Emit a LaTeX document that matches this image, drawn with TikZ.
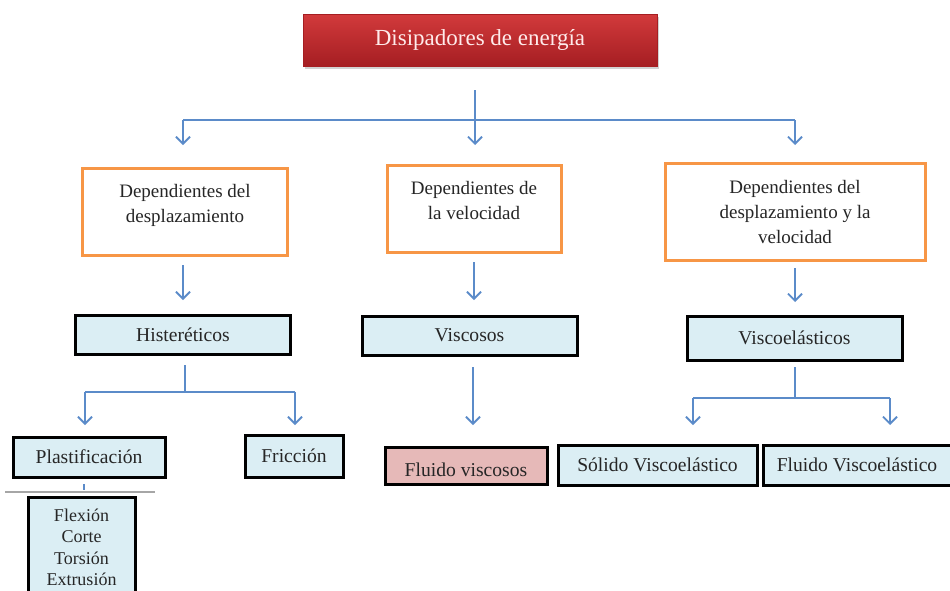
\documentclass[tikz,border=0pt]{standalone}
\usepackage{fontspec}
\setmainfont{Liberation Serif}
\usetikzlibrary{arrows.meta,shadows,calc}
\definecolor{conblue}{HTML}{5B8BC9}
\definecolor{orangeb}{HTML}{F79646}
\definecolor{lblue}{HTML}{DBEEF4}
\definecolor{pinkf}{HTML}{E6B9B8}
\definecolor{redtop}{HTML}{D23A3C}
\definecolor{redbot}{HTML}{A51E22}
\tikzset{
  titlebox/.style={draw=redbot, line width=0.8pt, top color=redtop, bottom color=redbot,
    text=white!92!red, font=\fontsize{23}{27}\selectfont, inner sep=0pt, outer sep=0pt,
    drop shadow={shadow xshift=2pt, shadow yshift=-3pt, opacity=0.35}},
  orangebox/.style={draw=orangeb, line width=3pt, fill=white, align=center,
    font=\fontsize{19}{25}\selectfont, inner sep=0pt, outer sep=0pt, text=black!85},
  bluebox/.style={draw=black, line width=3pt, fill=lblue, align=center,
    font=\fontsize{19.6}{23}\selectfont, inner sep=0pt, outer sep=0pt, text=black!85},
  pinkbox/.style={bluebox, fill=pinkf},
  conn/.style={draw=conblue, line width=1.8pt},
  arr/.style={conn, -{Straight Barb[length=7pt,width=14pt,line width=1.8pt]}},
}
\begin{document}
\begin{tikzpicture}[x=1pt, y=-1pt]
\clip (0,0) rectangle (950,590);
\fill[white] (0,0) rectangle (950,590);

% nodes
\node[titlebox, minimum width=354pt, minimum height=52pt] (title) at (480,40) {Disipadores de energía};

\node[orangebox, minimum width=205pt, minimum height=87pt] (dl) at (185,211.5) {Dependientes del\\desplazamiento\\[-9pt]\mbox{}};
\node[orangebox, minimum width=174pt, minimum height=87pt] (dv) at (474,208.5) {Dependientes de\\la velocidad\\[-9pt]\mbox{}};
\node[orangebox, minimum width=260pt, minimum height=97pt] (ddv) at (795,211.5) {Dependientes del\\desplazamiento y la\\velocidad};

\node[bluebox, minimum width=215pt, minimum height=39pt] (hist) at (183,334.5) {Histeréticos};
\node[bluebox, minimum width=215pt, minimum height=39pt] (visc) at (469.5,335.5) {Viscosos};
\node[bluebox, minimum width=215pt, minimum height=44pt] (vela) at (794.5,338) {Viscoelásticos};

\node[bluebox, minimum width=152pt, minimum height=40pt] (plast) at (89,457) {Plastificación};
\node[bluebox, minimum width=98pt, minimum height=42pt] (fric) at (294,456) {Fricción};
\node[bluebox, minimum width=107pt, minimum height=101pt, font=\fontsize{18}{21.5}\selectfont] (flex) at (81.5,547.5) {Flexión\\Corte\\Torsión\\Extrusión};

\node[pinkbox, minimum width=162pt, minimum height=37pt] (fvisc) at (466,465.5) {\mbox{}\\[-1pt]Fluido viscosos};
\node[bluebox, minimum width=199pt, minimum height=40pt] (solido) at (657.5,465) {Sólido Viscoelástico};
\node[bluebox, minimum width=188pt, minimum height=40pt] (fluve) at (857,465) {Fluido Viscoelástico};

% title branch
\coordinate (t0) at (475,90);
\coordinate (tj) at (475,120);
\coordinate (tl) at (183,120);
\coordinate (tr) at (795,120);
\draw[conn] (t0) -- (tj);
\draw[conn] (tl) -- (tr);
\draw[arr, shorten >=23pt] (tl) -- (dl.north -| tl);
\draw[arr, shorten >=20pt] (tj) -- (dv.north -| tj);
\draw[arr, shorten >=18pt] (tr) -- (ddv.north -| tr);

% second level
\draw[arr, shorten <=10pt, shorten >=15pt] (dl.south -| hist) -- (hist.north);
\draw[arr, shorten <=10pt, shorten >=16pt] (dv.south) -- (dv.south |- visc.north);
\draw[arr, shorten <=8pt, shorten >=14pt] (ddv.south) -- (ddv.south |- vela.north);

% Histereticos branch
\coordinate (hj) at (185,392);
\coordinate (hl) at (85,392);
\coordinate (hr) at (295,392);
\draw[conn, shorten <=11pt] (hist.south -| hj) -- (hj);
\draw[conn] (hl) -- (hr);
\draw[arr, shorten >=12pt] (hl) -- (plast.north -| hl);
\draw[arr, shorten >=10pt] (hr) -- (fric.north -| hr);

% Plastificacion to list
\coordinate (pt) at (84,490);
\draw[conn, line width=1.2pt, shorten <=7pt] (plast.south -| pt) -- (pt);
\coordinate (gl) at (5,492);
\coordinate (gr) at (155,492);
\draw[black!35, line width=1.2pt] (gl) -- (gr);

% Viscosos
\coordinate (vs) at (473,355);
\draw[arr, shorten <=12pt, shorten >=22pt] (vs) -- (vs |- fvisc.north);

% Viscoelasticos branch
\coordinate (ej) at (795,398);
\coordinate (el) at (693,398);
\coordinate (er) at (890,398);
\draw[conn, shorten <=7pt] (vela.south -| ej) -- (ej);
\draw[conn] (el) -- (er);
\draw[arr, shorten >=20pt] (el) -- (solido.north -| el);
\draw[arr, shorten >=20pt] (er) -- (fluve.north -| er);
\end{tikzpicture}
\end{document}
